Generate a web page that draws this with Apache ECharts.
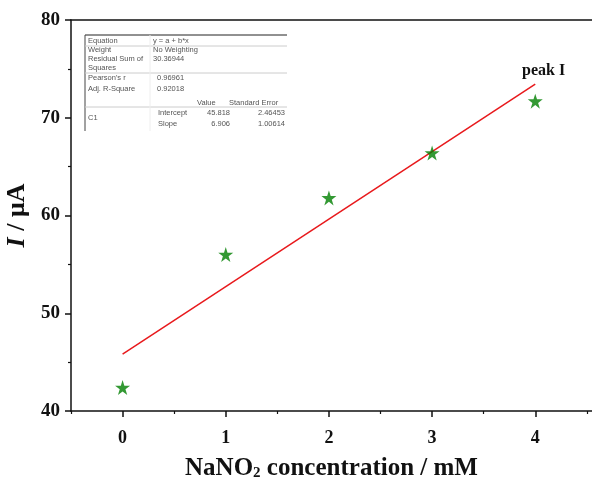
<!DOCTYPE html>
<html>
<head>
<meta charset="utf-8">
<script src="https://cdn.jsdelivr.net/npm/echarts@6/dist/echarts.min.js"></script>
<style>
html, body { margin: 0; padding: 0; background: #fff; }
#main_chart { width: 592px; height: 480px; }
</style>
</head>
<body>
<div id="main_chart"></div>
<script>
// 数据
var concX = [0, 1, 2, 3, 4];
var currentY = [42.4, 56.0, 61.8, 66.4, 71.7];
// 拟合直线 y = a + b*x
var fitX = [0, 4];
var fitY = [45.818, 73.442];
var xTicks = [0, 1, 2, 3, 4];
var xMinorTicks = [-0.5, 0.5, 1.5, 2.5, 3.5, 4.5];

// 拟合结果表
var tableRows = [
    ['Equation', 'y = a + b*x'],
    ['Weight', 'No Weighting'],
    ['Residual Sum of', '30.36944'],
    ['Squares', ''],
    ['Pearson\'s r', '0.96961'],
    ['Adj. R-Square', '0.92018']
];

var serif = '"Liberation Serif", "Times New Roman", serif';
var sans = '"Liberation Sans", Arial, sans-serif';
var starPath = 'path://M50,0 L61.2,34.5 L97.6,34.5 L68.2,55.9 L79.4,90.5 L50,69.1 L20.6,90.5 L31.8,55.9 L2.4,34.5 L38.8,34.5 Z';

const myChart = echarts.init(document.getElementById('main_chart'));

var tableTextStyle = { fill: '#555', font: '7.5px ' + sans };
var graphics = [];
// 表格边框
graphics.push({ type: 'line', shape: { x1: 85, y1: 35, x2: 287, y2: 35 }, style: { stroke: '#222', lineWidth: 1 } });
graphics.push({ type: 'line', shape: { x1: 85, y1: 35, x2: 85, y2: 131 }, style: { stroke: '#444', lineWidth: 1 } });
[46, 73, 107].forEach(function (y) {
    graphics.push({ type: 'line', shape: { x1: 85, y1: y, x2: 287, y2: y }, style: { stroke: '#ccc', lineWidth: 1 } });
});
graphics.push({ type: 'line', shape: { x1: 150, y1: 35, x2: 150, y2: 131 }, style: { stroke: '#eee', lineWidth: 1 } });
var rowY = [40.5, 50, 59, 67.5, 78, 89];
tableRows.forEach(function (r, i) {
    graphics.push({ type: 'text', left: 88, top: rowY[i] - 4, style: Object.assign({ text: r[0] }, tableTextStyle) });
    if (r[1]) {
        var xx = i >= 4 ? 157 : 153;
        graphics.push({ type: 'text', left: xx, top: rowY[i] - 4, style: Object.assign({ text: r[1] }, tableTextStyle) });
    }
});
graphics.push({ type: 'text', left: 197, top: 99, style: Object.assign({ text: 'Value' }, tableTextStyle) });
graphics.push({ type: 'text', left: 229, top: 99, style: Object.assign({ text: 'Standard Error' }, tableTextStyle) });
graphics.push({ type: 'text', left: 88, top: 114, style: Object.assign({ text: 'C1' }, tableTextStyle) });
graphics.push({ type: 'text', left: 158, top: 109, style: Object.assign({ text: 'Intercept' }, tableTextStyle) });
graphics.push({ type: 'text', left: 158, top: 120, style: Object.assign({ text: 'Slope' }, tableTextStyle) });
graphics.push({ type: 'text', x: 230, y: 109, style: Object.assign({ text: '45.818', align: 'right' }, tableTextStyle) });
graphics.push({ type: 'text', x: 230, y: 120, style: Object.assign({ text: '6.906', align: 'right' }, tableTextStyle) });
graphics.push({ type: 'text', x: 285, y: 109, style: Object.assign({ text: '2.46453', align: 'right' }, tableTextStyle) });
graphics.push({ type: 'text', x: 285, y: 120, style: Object.assign({ text: '1.00614', align: 'right' }, tableTextStyle) });
// 标注
graphics.push({ type: 'text', left: 522, top: 63, style: { text: 'peak I', fill: '#111', font: 'bold 16px ' + serif } });

var option = {
    animation: false,
    backgroundColor: '#fff',
    grid: { left: 71, top: 20, width: 521, height: 391, outerBoundsMode: 'none', containLabel: false },
    xAxis: [
        {
            type: 'value', min: -0.5, max: 4.55,
            axisLine: { show: true, onZero: false, lineStyle: { color: '#111', width: 1.5 } },
            axisTick: { show: true, length: 6, customValues: xTicks, lineStyle: { color: '#111', width: 1.5 } },
            axisLabel: { customValues: xTicks, margin: 18, color: '#111', fontFamily: serif, fontWeight: 'bold', fontSize: 18 },
            splitLine: { show: false },
            name: '{a|NaNO}{s|2}{a| concentration / mM}',
            nameLocation: 'middle', nameGap: 45,
            nameTextStyle: {
                rich: {
                    a: { fontFamily: serif, fontWeight: 'bold', fontSize: 25, color: '#111' },
                    s: { fontFamily: serif, fontWeight: 'bold', fontSize: 15, color: '#111', padding: [10, 0, 0, 0] }
                }
            }
        },
        {
            type: 'value', min: -0.5, max: 4.55, position: 'bottom',
            axisLine: { show: false },
            axisTick: { show: true, length: 3, customValues: xMinorTicks, lineStyle: { color: '#111', width: 1.2 } },
            axisLabel: { show: false },
            splitLine: { show: false }
        },
        {
            type: 'value', min: -0.5, max: 4.55, position: 'top',
            axisLine: { show: true, lineStyle: { color: '#111', width: 1.5 } },
            axisTick: { show: false }, axisLabel: { show: false }, splitLine: { show: false }
        }
    ],
    yAxis: {
        type: 'value', min: 40, max: 80, interval: 10,
        axisLine: { show: true, onZero: false, lineStyle: { color: '#111', width: 1.5 } },
        axisTick: { show: true, length: 6, lineStyle: { color: '#111', width: 1.5 } },
        minorTick: { show: true, splitNumber: 2, length: 3, lineStyle: { color: '#111', width: 1.2 } },
        axisLabel: { margin: 11, color: '#111', fontFamily: serif, fontWeight: 'bold', fontSize: 19 },
        splitLine: { show: false },
        name: '{i|I}{n| / μA}',
        nameLocation: 'middle', nameGap: 39, nameRotate: 90,
        nameTextStyle: {
            rich: {
                i: { fontFamily: serif, fontWeight: 'bold', fontStyle: 'italic', fontSize: 26, color: '#111' },
                n: { fontFamily: serif, fontWeight: 'bold', fontSize: 26, color: '#111' }
            }
        }
    },
    graphic: graphics,
    series: [
        {
            name: 'fit',
            type: 'line',
            data: fitX.map(function (x, i) { return [x, fitY[i]]; }),
            symbol: 'none',
            lineStyle: { color: '#e8191c', width: 1.5 },
            z: 2
        },
        {
            name: 'peak I',
            type: 'scatter',
            data: concX.map(function (x, i) { return [x, currentY[i]]; }),
            symbol: starPath,
            symbolSize: 15,
            itemStyle: { color: '#007f00' },
            z: 3
        }
    ]
};

myChart.setOption(option);
window.onresize = function () {
    myChart.resize();
};
</script>
</body>
</html>
